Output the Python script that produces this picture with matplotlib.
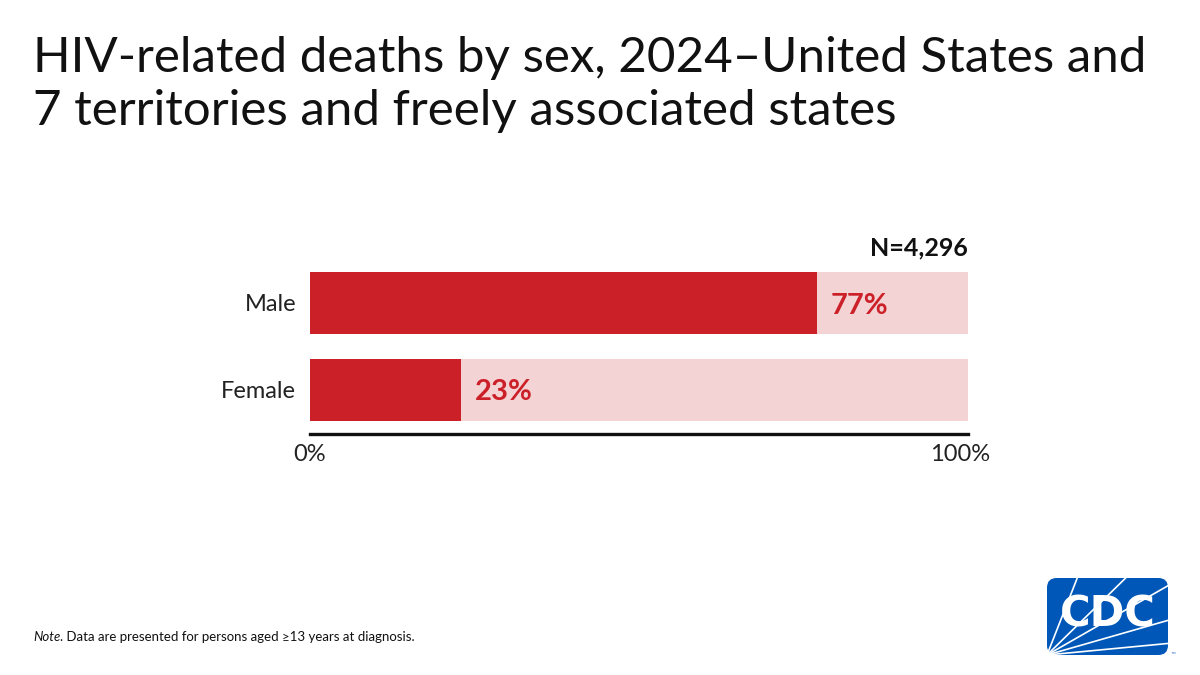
import matplotlib
matplotlib.use("Agg")
import matplotlib.pyplot as plt
from matplotlib.patches import FancyBboxPatch
from matplotlib.lines import Line2D
from matplotlib.transforms import ScaledTranslation

categories = ["Male", "Female"]
percent = [77, 23]
total_label = "N=4,296"
x_ticks = [0, 100]
x_tick_labels = ["0%", "100%"]

RED = "#CC2029"
PINK = "#F4D3D5"
FONT = "Lato"

W, H = 1200, 675
fig = plt.figure(figsize=(12, 6.75), dpi=100)
fig.patch.set_facecolor("white")

ax = fig.add_axes([310 / W, 1 - 434 / H, (968 - 310) / W, (434 - 259.5) / H])
y = [1, 0]
ax.barh(y, [100] * len(categories), height=0.712, color=PINK, zorder=1)
ax.barh(y, percent, height=0.712, color=RED, zorder=2)
for yi, p in zip(y, percent):
    ax.text(p + 2.1, yi - 0.03, f"{p}%", va="center", ha="left", color=RED,
            fontsize=21, fontweight="bold", family=FONT)
ax.set_xlim(0, 100)
ax.set_ylim(-0.51, 1.5)
ax.set_yticks(y)
ax.set_yticklabels(categories, fontsize=17, family=FONT, color="#222222")
ax.set_xticks(x_ticks)
ax.set_xticklabels(x_tick_labels, fontsize=17, family=FONT, color="#222222")
ax.tick_params(axis="x", length=0, pad=7)
ax.tick_params(axis="y", length=0, pad=10)
last = ax.get_xticklabels()[-1]
last.set_transform(last.get_transform() + ScaledTranslation(-0.08, 0, fig.dpi_scale_trans))
for s in ["top", "right", "left"]:
    ax.spines[s].set_visible(False)
ax.spines["bottom"].set_linewidth(2.4)
ax.spines["bottom"].set_color("#111111")
ax.text(100, 1.5, total_label, ha="right", va="bottom", fontsize=18,
        fontweight="bold", family=FONT, color="#111111")

fig.text(33 / W, 1 - 125 / H,
         "HIV-related deaths by sex, 2024\u2013United States and\n7 territories and freely associated states",
         ha="left", va="baseline", fontsize=35.5, family=FONT, color="#111111",
         linespacing=1.26)

fig.text(33 / W, 1 - 637 / H, "Note.", ha="left", va="center", fontsize=9.5,
         family=FONT, style="italic", color="#111111")
fig.text(63 / W, 1 - 637 / H, " Data are presented for persons aged \u226513 years at diagnosis.",
         ha="left", va="center", fontsize=9.5, family=[FONT, "DejaVu Sans"], color="#111111")

# CDC logo
lx0, ly0, lx1, ly1 = 1047, 578, 1168, 655
logo = fig.add_axes([lx0 / W, 1 - ly1 / H, (lx1 - lx0) / W, (ly1 - ly0) / H])
logo.set_xlim(0, 1)
logo.set_ylim(0, 1)
logo.axis("off")
logo.add_patch(FancyBboxPatch((0.0, 0.0), 1.0, 1.0,
                              boxstyle="round,pad=0,rounding_size=0.08",
                              facecolor="#0057B8", edgecolor="none",
                              mutation_aspect=(lx1 - lx0) / (ly1 - ly0)))
for (x1, y1) in [(0.25, 1.0), (0.65, 1.0), (1.0, 0.9), (1.0, 0.45), (1.0, 0.15)]:
    logo.add_line(Line2D([0.0, x1], [0.0, y1], color="white", lw=1.2))
logo.text(0.5, 0.52, "CDC", ha="center", va="center", color="white",
          fontsize=30, fontweight="heavy", family="DejaVu Sans")
fig.text(1170 / W, 1 - 656 / H, "\u2122", fontsize=4, color="#0057B8",
         ha="left", va="center")

fig.savefig("out.png", dpi=100, facecolor="white")
